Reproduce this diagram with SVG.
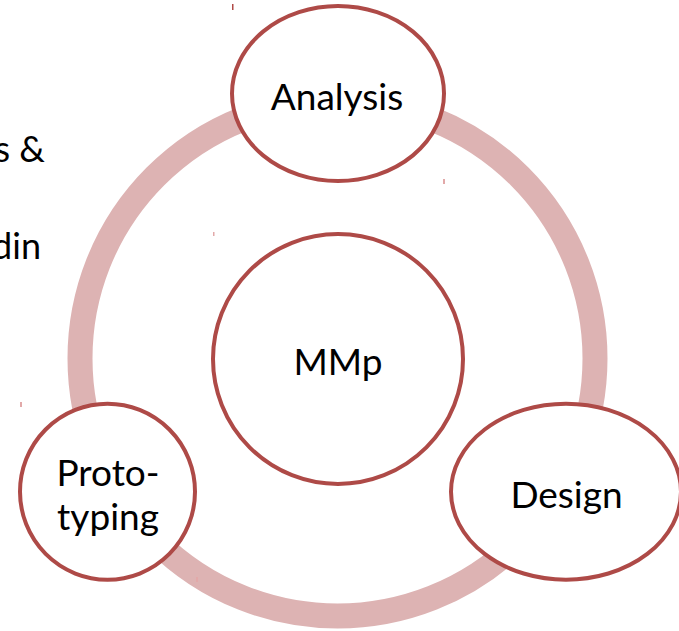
<svg xmlns="http://www.w3.org/2000/svg" width="679" height="631" viewBox="0 0 679 631">
<style>
.node{fill:#fff;stroke:#AE4A47;stroke-width:4}
.lbl{font-family:Lato,"Open Sans","Liberation Sans",sans-serif;font-size:37px;fill:#000;text-anchor:middle}
.side{font-family:Lato,"Open Sans","Liberation Sans",sans-serif;font-size:36px;fill:#000;text-anchor:end}
.tick{fill:#E2A9A9}
</style>
<rect width="679" height="631" fill="#fff"/>
<g id="side-text">
<text class="side" x="45" y="162">s &amp;</text>
<text class="side" x="41" y="259">din</text>
</g>
<g id="connectors">
<circle cx="337.5" cy="358.5" r="257.5" fill="none" stroke="#DDB3B3" stroke-width="25"/>
</g>
<g id="ticks">
<rect x="232" y="4" width="1.5" height="6" fill="#B04A47"/>
<rect class="tick" x="443" y="179" width="2" height="5"/>
<rect class="tick" x="213" y="232" width="1.5" height="4"/>
<rect class="tick" x="20" y="402" width="2" height="5"/>
<rect class="tick" x="196" y="577" width="2" height="5"/>
</g>
<g id="node-mmp">
<circle class="node" cx="338" cy="359" r="125"/>
<text class="lbl" x="338" y="375">MMp</text>
</g>
<g id="node-analysis">
<ellipse class="node" cx="338" cy="93.5" rx="106" ry="87.5"/>
<text class="lbl" x="337" y="110">Analysis</text>
</g>
<g id="node-prototyping">
<ellipse class="node" cx="107.5" cy="491.7" rx="87.5" ry="88"/>
<text class="lbl" x="108" y="486">Proto-</text>
<text class="lbl" x="108" y="530">typing</text>
</g>
<g id="node-design">
<ellipse class="node" cx="566" cy="491.7" rx="115" ry="88"/>
<text class="lbl" x="566.5" y="508">Design</text>
</g>
</svg>
